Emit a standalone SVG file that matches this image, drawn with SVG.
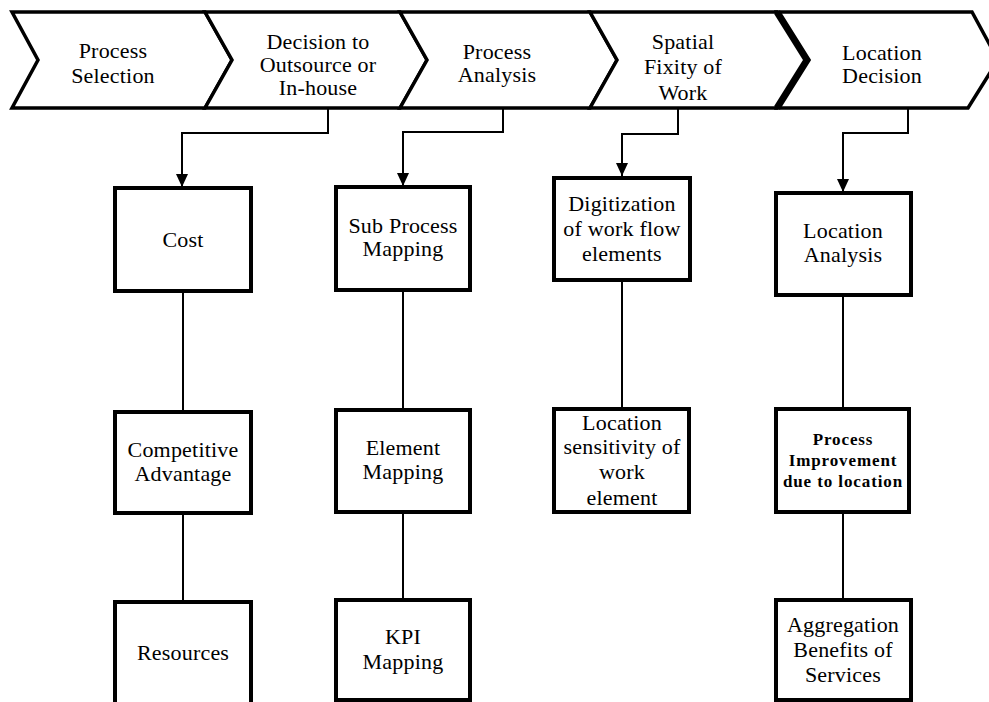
<svg xmlns="http://www.w3.org/2000/svg" width="989" height="702" viewBox="0 0 989 702">
<defs>
<style>
.chev{fill:#fff;stroke:#000;stroke-width:3.5;stroke-linejoin:miter}
.box{fill:#fff;stroke:#000;stroke-width:4}
.t{font-family:"Liberation Serif","Times New Roman",serif;font-size:22px;letter-spacing:0.2px;fill:#000;text-anchor:middle}
.b{font-family:"Liberation Serif","Times New Roman",serif;font-size:17px;font-weight:bold;letter-spacing:0.9px;fill:#000;text-anchor:middle}
.c{fill:none;stroke:#000;stroke-width:2}
</style>
<marker id="ah" markerWidth="14" markerHeight="12" refX="13" refY="6" orient="auto" markerUnits="userSpaceOnUse">
<path d="M0,0 L13,6 L0,12 Z" fill="#000"/>
</marker>
</defs>
<rect width="989" height="702" fill="#fff"/>
<g id="connectors">
<path class="c" d="M328,108 V133 H182 V187" marker-end="url(#ah)"/>
<path class="c" d="M503,108 V132 H403 V186" marker-end="url(#ah)"/>
<path class="c" d="M678,108 V134 H622 V176" marker-end="url(#ah)"/>
<path class="c" d="M908,108 V133 H843 V192" marker-end="url(#ah)"/>
<path class="c" d="M183,291 V412"/>
<path class="c" d="M183,513 V602"/>
<path class="c" d="M403,290 V410"/>
<path class="c" d="M403,512 V600"/>
<path class="c" d="M622,280 V409"/>
<path class="c" d="M843,295 V409"/>
<path class="c" d="M843,512 V600"/>
</g>
<g id="chev1"><path class="chev" d="M12,12 L205,12 L232,60 L205,108 L12,108 L38,60 Z"/>
<text class="t" x="113" y="58">Process</text><text class="t" x="113" y="83">Selection</text></g>
<g id="chev2"><path class="chev" d="M205,12 L400,12 L427,60 L400,108 L205,108 L232,60 Z"/>
<text class="t" x="318" y="49">Decision to</text><text class="t" x="318" y="72">Outsource or</text><text class="t" x="318" y="95">In-house</text></g>
<g id="chev3"><path class="chev" d="M400,12 L590,12 L617,60 L590,108 L400,108 L427,60 Z"/>
<text class="t" x="497" y="59">Process</text><text class="t" x="497" y="82">Analysis</text></g>
<g id="chev5"><path class="chev" d="M777,12 L972,12 L998,60 L968,108 L777,108 L807,60 Z"/>
<text class="t" x="882" y="60">Location</text><text class="t" x="882" y="83">Decision</text></g>
<g id="chev4"><path class="chev" d="M590,12 L777,12 L807,60 L777,108 L590,108 L617,60 Z"/>
<path d="M777,12 L807,60 L777,108" fill="none" stroke="#000" stroke-width="7"/>
<text class="t" x="683" y="49">Spatial</text><text class="t" x="683" y="74">Fixity of</text><text class="t" x="683" y="100">Work</text></g>
<g id="n-cost"><rect class="box" x="115" y="188" width="136" height="103"/><text class="t" x="183" y="247">Cost</text></g>
<g id="n-subprocess"><rect class="box" x="336" y="187" width="134" height="103"/><text class="t" x="403" y="233">Sub Process</text><text class="t" x="403" y="256">Mapping</text></g>
<g id="n-digitization"><rect class="box" x="554" y="178" width="136" height="102"/><text class="t" x="622" y="211">Digitization</text><text class="t" x="622" y="236">of work flow</text><text class="t" x="622" y="261">elements</text></g>
<g id="n-locanalysis"><rect class="box" x="776" y="193" width="135" height="102"/><text class="t" x="843" y="238">Location</text><text class="t" x="843" y="262">Analysis</text></g>
<g id="n-competitive"><rect class="box" x="115" y="412" width="136" height="101"/><text class="t" x="183" y="457">Competitive</text><text class="t" x="183" y="481">Advantage</text></g>
<g id="n-element"><rect class="box" x="336" y="410" width="134" height="102"/><text class="t" x="403" y="455">Element</text><text class="t" x="403" y="479">Mapping</text></g>
<g id="n-locsens"><rect class="box" x="554" y="409" width="135" height="103"/><text class="t" x="622" y="430">Location</text><text class="t" x="622" y="454">sensitivity of</text><text class="t" x="622" y="479">work</text><text class="t" x="622" y="505">element</text></g>
<g id="n-procimp"><rect class="box" x="776" y="409" width="133" height="103"/><text class="b" x="843" y="445">Process</text><text class="b" x="843" y="466">Improvement</text><text class="b" x="843" y="487">due to location</text></g>
<g id="n-resources"><rect class="box" x="115" y="602" width="136" height="106"/><text class="t" x="183" y="660">Resources</text></g>
<g id="n-kpi"><rect class="box" x="336" y="600" width="134" height="100"/><text class="t" x="403" y="644">KPI</text><text class="t" x="403" y="669">Mapping</text></g>
<g id="n-aggregation"><rect class="box" x="776" y="600" width="135" height="100"/><text class="t" x="843" y="632">Aggregation</text><text class="t" x="843" y="657">Benefits of</text><text class="t" x="843" y="682">Services</text></g>
</svg>
